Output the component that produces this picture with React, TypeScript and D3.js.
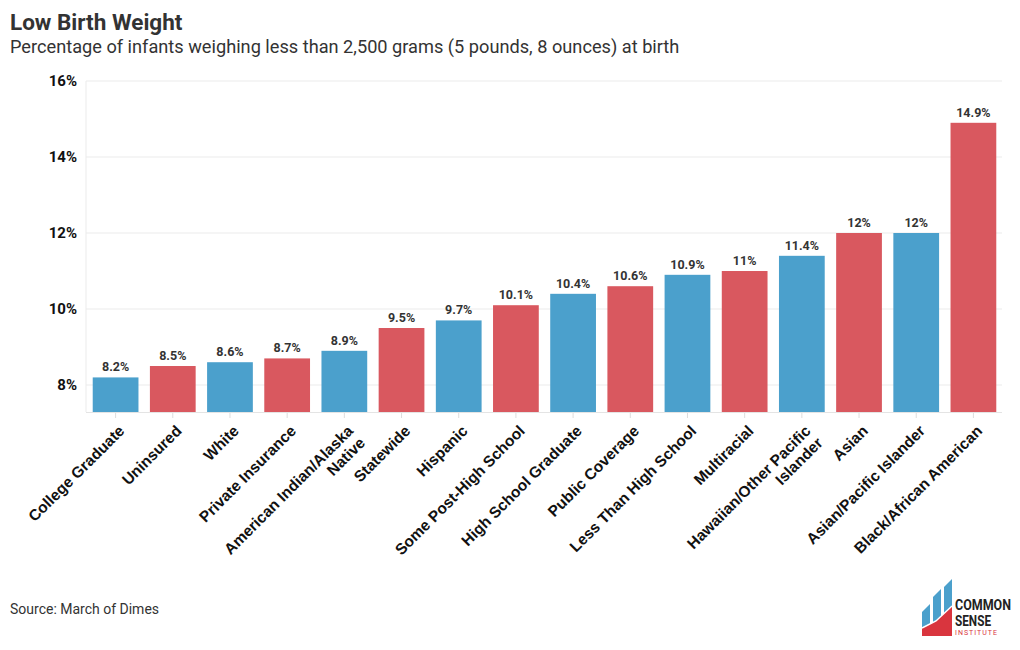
import React from "react";
import * as d3 from "d3";

const categories = [
  "College Graduate", "Uninsured", "White", "Private Insurance",
  "American Indian/Alaska Native", "Statewide", "Hispanic", "Some Post-High School",
  "High School Graduate", "Public Coverage", "Less Than High School", "Multiracial",
  "Hawaiian/Other Pacific Islander", "Asian", "Asian/Pacific Islander", "Black/African American",
];
const labelLines = [
  ["College Graduate"], ["Uninsured"], ["White"], ["Private Insurance"],
  ["American Indian/Alaska", "Native"], ["Statewide"], ["Hispanic"], ["Some Post-High School"],
  ["High School Graduate"], ["Public Coverage"], ["Less Than High School"], ["Multiracial"],
  ["Hawaiian/Other Pacific", "Islander"], ["Asian"], ["Asian/Pacific Islander"], ["Black/African American"],
];
const values = [8.2, 8.5, 8.6, 8.7, 8.9, 9.5, 9.7, 10.1, 10.4, 10.6, 10.9, 11, 11.4, 12, 12, 14.9];
const groups = ["b", "r", "b", "r", "b", "r", "b", "r", "b", "r", "b", "r", "b", "r", "b", "r"];
const yTicks = [8, 10, 12, 14, 16];

const W = 1020, H = 650;
const FONT = "Roboto, 'Open Sans', sans-serif";
const LABEL_FONT = "'Liberation Sans', Arial, sans-serif";
const colorOf: Record<string, string> = { b: "#4ba0cc", r: "#d9585f" };

export default function App() {
  const x = d3.scaleBand<string>().domain(categories).range([87, 1002]).paddingInner(0.2).paddingOuter(0.1);
  const y = d3.scaleLinear().domain([7.29, 16]).range([412, 81]);
  const bw = x.bandwidth();
  return (
    <svg width={W} height={H} style={{ display: "block", position: "absolute", left: 0, top: 0 }} fontFamily={FONT}>
      <rect width={W} height={H} fill="#fff" />
      <text x={10} y={30} fontSize={22.5} fontWeight={700} fill="#333">Low Birth Weight</text>
      <text x={10} y={53} fontSize={18.2} fill="#333">Percentage of infants weighing less than 2,500 grams (5 pounds, 8 ounces) at birth</text>
      {yTicks.map((t) => (
        <g key={t}>
          <line x1={86} x2={1002} y1={y(t)} y2={y(t)} stroke="#ebebeb" />
          <text x={77} y={y(t)} dy="0.35em" textAnchor="end" fontSize={15} fontWeight={700} fill="#111">{t}%</text>
        </g>
      ))}
      <line x1={86} x2={86} y1={81} y2={412} stroke="#ebebeb" />
      <line x1={86} x2={1002} y1={412.5} y2={412.5} stroke="#e4e4e4" />
      {categories.map((c, i) => {
        const cx = (x(c) as number) + bw / 2;
        const lines = labelLines[i];
        return (
          <g key={c}>
            <rect x={x(c)} y={y(values[i])} width={bw} height={412 - y(values[i])} fill={colorOf[groups[i]]} />
            <text x={cx} y={y(values[i]) - 6} textAnchor="middle" fontSize={12.5} fontWeight={700} fill="#333">{values[i]}%</text>
            <line x1={cx} x2={cx} y1={413} y2={418} stroke="#ddd" />
            <g transform={`translate(${cx + 6},${428}) rotate(-45)`} fontFamily={LABEL_FONT}>
              {lines.map((l, k) => (
                <text key={k} x={0} y={k * 17} dy="0.35em" textAnchor="end" fontSize={15.5} fontWeight={700} fill="#111">{l}</text>
              ))}
            </g>
          </g>
        );
      })}
      <text x={10} y={614} fontSize={14} fill="#333">Source: March of Dimes</text>
      <g>
        <polygon points="922,612 930,604 930,636 922,636" fill="#4ba0cc" />
        <polygon points="933,597 941,589 941,636 933,636" fill="#4ba0cc" />
        <polygon points="944,587 952,579 952,636 944,636" fill="#4ba0cc" />
        <polygon points="922,628 936,621 952,606 952,636 922,636" fill="#d9353e" />
        <polyline points="922,628 936,621 952,606" fill="none" stroke="#fff" strokeWidth={1.5} />
        <text x={955} y={610} fontSize={14} fontWeight={700} fill="#222" textLength={56} lengthAdjust="spacingAndGlyphs">COMMON</text>
        <text x={955} y={626} fontSize={14} fontWeight={700} fill="#222" textLength={36} lengthAdjust="spacingAndGlyphs">SENSE</text>
        <text x={955} y={635} fontSize={7} fill="#d9353e" letterSpacing={1}>INSTITUTE</text>
      </g>
    </svg>
  );
}
